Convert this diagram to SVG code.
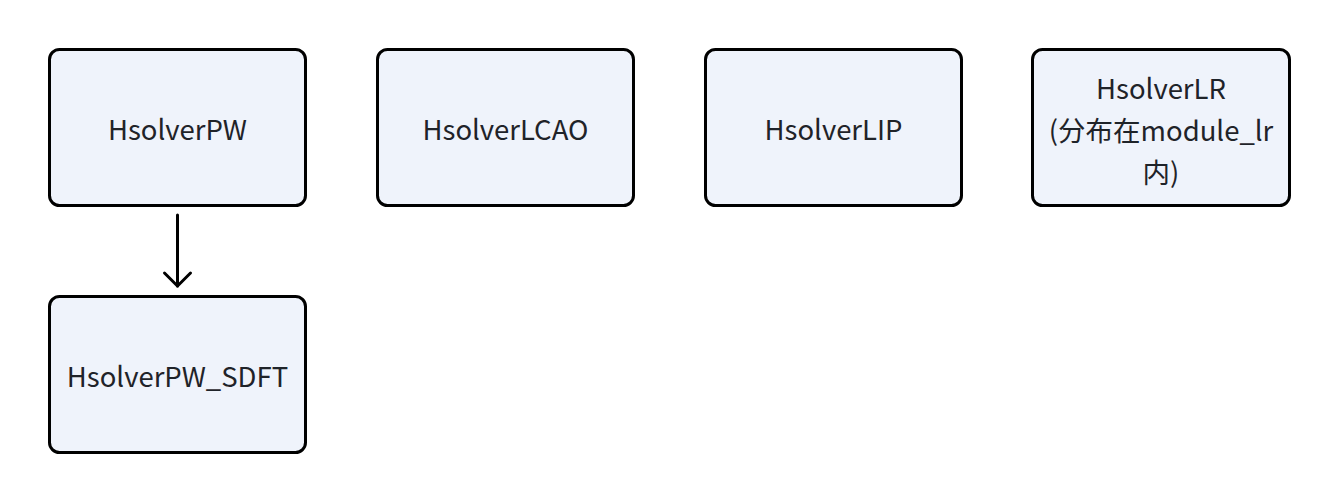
<svg xmlns="http://www.w3.org/2000/svg" width="1340" height="504" viewBox="0 0 1340 504">
<style>
.box{fill:#eff3fb;stroke:#000;stroke-width:3}
.t{font-family:"Noto Sans CJK SC","Noto Sans",sans-serif;font-size:27.5px;fill:#1f2329;text-anchor:middle}
.c{fill:none;stroke:#000;stroke-width:3;stroke-linecap:round;stroke-linejoin:round}
</style>
<rect width="1340" height="504" fill="#fff"/>
<g id="HsolverPW"><rect class="box" x="49.5" y="49.5" width="256" height="156" rx="10"/><text class="t" x="177.5" y="140">HsolverPW</text></g>
<g id="HsolverLCAO"><rect class="box" x="377.5" y="49.5" width="256" height="156" rx="10"/><text class="t" x="505.5" y="140">HsolverLCAO</text></g>
<g id="HsolverLIP"><rect class="box" x="705.5" y="49.5" width="256" height="156" rx="10"/><text class="t" x="833.5" y="140">HsolverLIP</text></g>
<g id="HsolverLR"><rect class="box" x="1032.5" y="49.5" width="257" height="156" rx="10"/><text class="t" x="1161" y="99">HsolverLR</text><text class="t" x="1161" y="141">(分布在module_lr</text><text class="t" x="1161" y="183">内)</text></g>
<g id="HsolverPW_SDFT"><rect class="box" x="49.5" y="296.5" width="256" height="156" rx="10"/><text class="t" x="177.5" y="387">HsolverPW_SDFT</text></g>
<g id="connectors"><path class="c" d="M177.5 215 V286"/><path class="c" d="M164.5 273 L177.5 286 L190.5 273"/></g>
</svg>
